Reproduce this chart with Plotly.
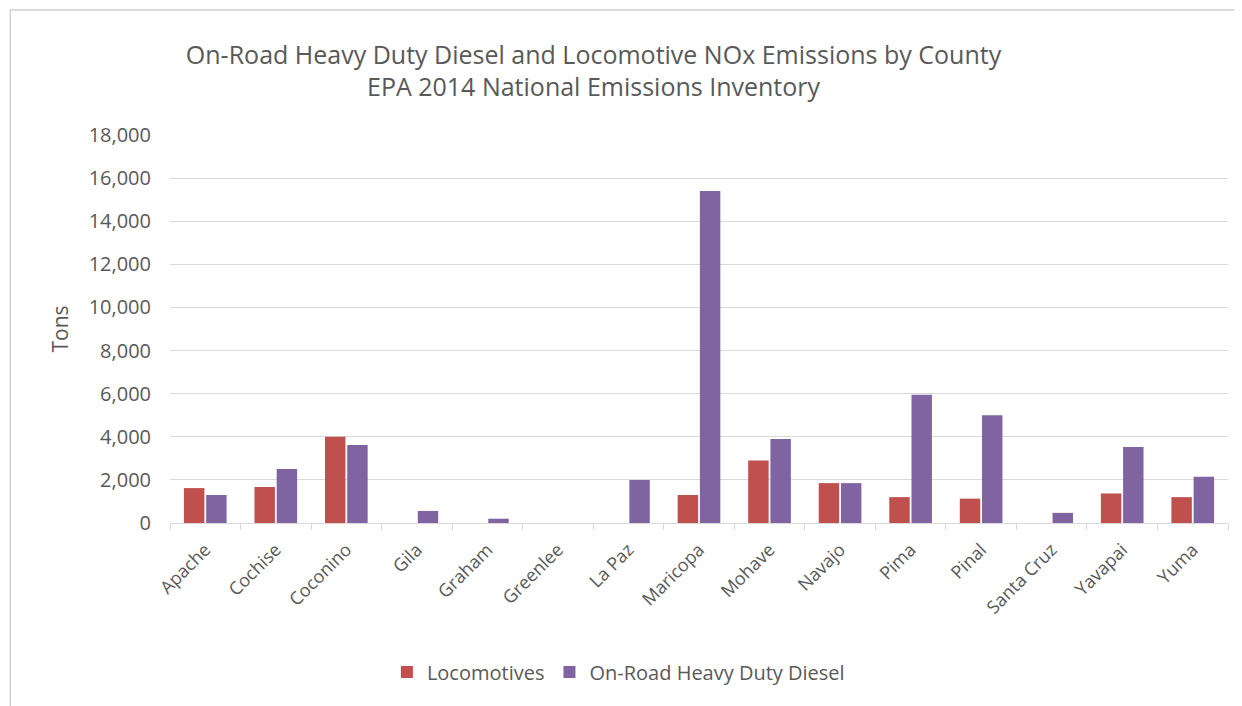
import plotly.graph_objects as go

counties = ['Apache', 'Cochise', 'Coconino', 'Gila', 'Graham', 'Greenlee', 'La Paz',
            'Maricopa', 'Mohave', 'Navajo', 'Pima', 'Pinal', 'Santa Cruz', 'Yavapai', 'Yuma']
locomotives = [1620, 1670, 4000, 0, 0, 0, 0, 1300, 2900, 1850, 1200, 1130, 0, 1370, 1200]
diesel = [1300, 2500, 3620, 560, 200, 0, 2000, 15400, 3900, 1850, 5950, 5000, 470, 3520, 2150]
y_ticks = list(range(0, 18001, 2000))

font_family = 'Open Sans, Noto Sans, sans-serif'
grey_text = '#595959'

fig = go.Figure()
fig.add_trace(go.Bar(x=counties, y=locomotives, name='Locomotives',
                     marker=dict(color='#C0504D', line=dict(color='#C0504D', width=0))))
fig.add_trace(go.Bar(x=counties, y=diesel, name='On-Road Heavy Duty Diesel',
                     marker=dict(color='#8064A2', line=dict(color='#8064A2', width=0))))

# page body has an 8px margin, so the figure is drawn 8px smaller
fig.update_layout(
    width=1234, height=698,
    margin=dict(l=162, r=14, t=127, b=183, autoexpand=False),
    paper_bgcolor='white', plot_bgcolor='white',
    barmode='group', bargap=0.37, bargroupgap=0.08,
    font=dict(family=font_family, color=grey_text, size=18),
    title=dict(text='On-Road Heavy Duty Diesel and Locomotive NOx Emissions by County<br>EPA 2014 National Emissions Inventory',
               x=0.4745, xanchor='center', y=0.92, yanchor='middle',
               font=dict(size=25, color=grey_text, family=font_family)),
    legend=dict(orientation='h', x=0.205, xanchor='left', y=-0.384, yanchor='middle',
                font=dict(size=20, color=grey_text), itemwidth=30, traceorder='normal'),
    showlegend=True,
)

fig.update_yaxes(range=[0, 18000], tickvals=y_ticks, tickformat=',d',
                 showgrid=True, gridcolor='#D9D9D9', gridwidth=1.3,
                 zeroline=False, showline=False, ticklabelstandoff=18,
                 tickfont=dict(size=20, color=grey_text),
                 title=dict(text='Tons', font=dict(size=21, color=grey_text), standoff=14))
fig.update_xaxes(showline=True, linecolor='#D9D9D9', linewidth=1.3,
                 ticks='outside', tickson='boundaries', ticklen=6, tickcolor='#D9D9D9',
                 tickangle=-45, ticklabelstandoff=8, tickfont=dict(size=18, color=grey_text))

# outer chart frame
fig.add_shape(type='rect', xref='paper', yref='paper', x0=-0.151, x1=1.011, y0=-0.6, y1=1.322,
              line=dict(color='#D0D0D0', width=1.5), fillcolor='rgba(0,0,0,0)', layer='below')

fig.write_html('out.html')
